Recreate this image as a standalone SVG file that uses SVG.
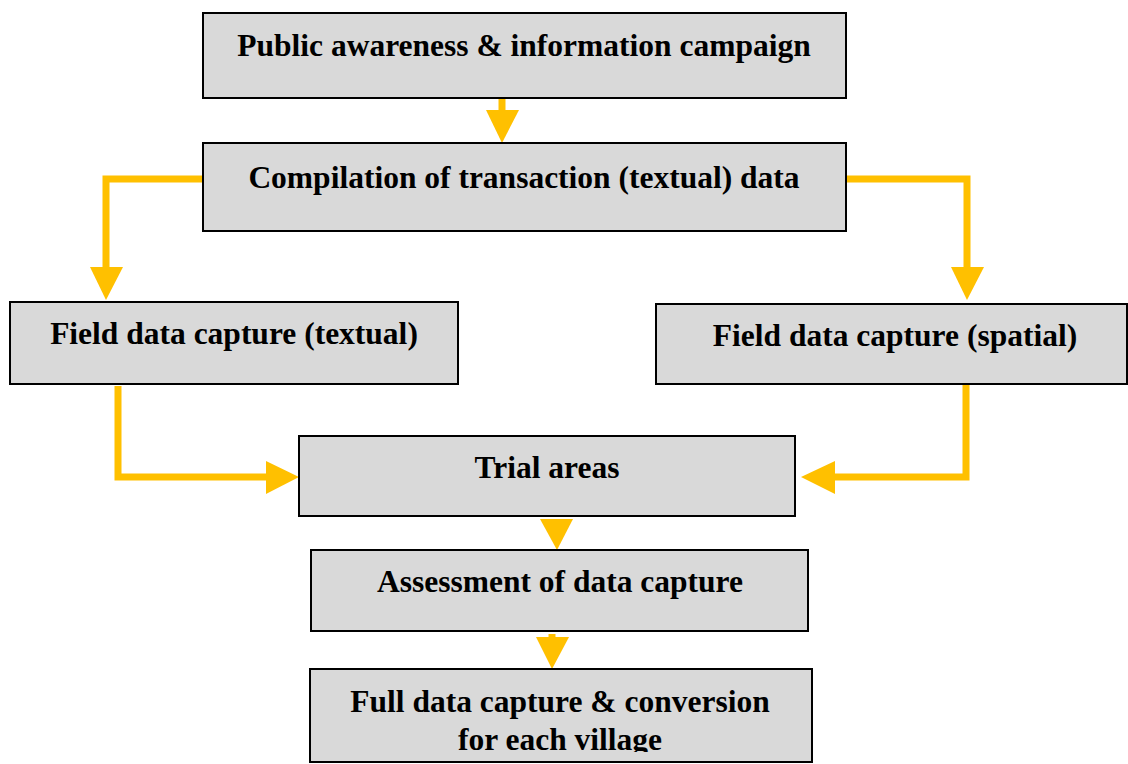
<svg xmlns="http://www.w3.org/2000/svg" width="1128" height="764" viewBox="0 0 1128 764">
  <style>
    .box { fill: #d9d9d9; stroke: #000; stroke-width: 2; }
    .lbl { font-family: "Liberation Serif", "Times New Roman", serif; font-weight: bold; font-size: 31.5px; fill: #000; text-anchor: middle; }
    .link { fill: none; stroke: #ffc000; stroke-width: 7; stroke-linejoin: miter; }
    .head { fill: #ffc000; }
  </style>
  <defs>
    <clipPath id="clip-full">
      <rect x="311" y="670" width="500" height="82"/>
    </clipPath>
  </defs>
  <rect width="1128" height="764" fill="#fff"/>

  <!-- connectors -->
  <g id="connectors">
    <line class="link" x1="502" y1="98" x2="502" y2="112"/>
    <polygon class="head" points="486,110 519,110 502,143"/>

    <polyline class="link" points="203,179 106,179 106,268"/>
    <polygon class="head" points="90,267 123,267 106,300"/>

    <polyline class="link" points="846,179 967,179 967,268"/>
    <polygon class="head" points="951,267 984,267 967,300"/>

    <polyline class="link" points="118,386 118,477 268,477"/>
    <polygon class="head" points="266,461 266,494 299,477"/>

    <polyline class="link" points="966,385 966,477 834,477"/>
    <polygon class="head" points="835,461 835,494 801,477"/>

    <polygon class="head" points="540,519 573,519 557,550"/>
    <line class="link" x1="552" y1="634" x2="552" y2="640"/>
    <polygon class="head" points="536,637 569,637 552,669"/>
  </g>

  <g id="node-awareness">
    <rect class="box" x="203" y="13" width="643" height="85"/>
    <text class="lbl" x="524" y="56">Public awareness &amp; information campaign</text>
  </g>
  <g id="node-compilation">
    <rect class="box" x="203" y="143" width="643" height="88"/>
    <text class="lbl" x="524" y="188">Compilation of transaction (textual) data</text>
  </g>
  <g id="node-field-textual">
    <rect class="box" x="10" y="302" width="448" height="82"/>
    <text class="lbl" x="234" y="344">Field data capture (textual)</text>
  </g>
  <g id="node-field-spatial">
    <rect class="box" x="656" y="304" width="471" height="80"/>
    <text class="lbl" x="895" y="346">Field data capture (spatial)</text>
  </g>
  <g id="node-trial">
    <rect class="box" x="299" y="436" width="496" height="80"/>
    <text class="lbl" x="547" y="478">Trial areas</text>
  </g>
  <g id="node-assessment">
    <rect class="box" x="311" y="550" width="497" height="81"/>
    <text class="lbl" x="560" y="592">Assessment of data capture</text>
  </g>
  <g id="node-full">
    <rect class="box" x="310" y="669" width="502" height="93"/>
    <g clip-path="url(#clip-full)">
      <text class="lbl" x="560" y="712">Full data capture &amp; conversion</text>
      <text class="lbl" x="560" y="750">for each village</text>
    </g>
  </g>
</svg>
